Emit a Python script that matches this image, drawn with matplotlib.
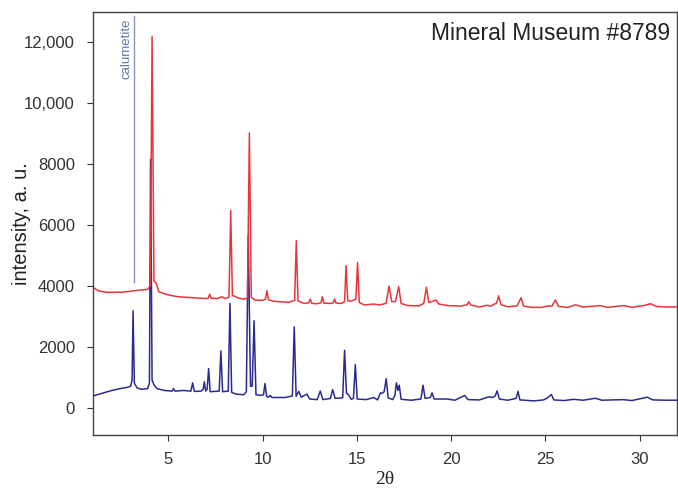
import matplotlib
matplotlib.use('Agg')
import matplotlib.pyplot as plt

plt.rcParams['font.family'] = ['Liberation Sans', 'DejaVu Sans']

# ── red pattern (upper trace) ──
red_x = [1.0, 1.3, 1.8, 2.5, 3.0, 3.5, 3.9, 4.05, 4.14, 4.24, 4.35, 4.5, 5.0, 5.5, 6.0,
         6.5, 7.0, 7.12, 7.19, 7.28, 7.6, 7.85, 8.0, 8.22, 8.31, 8.40, 8.5, 8.7, 9.0,
         9.2, 9.30, 9.40, 9.6, 10.0, 10.15, 10.23, 10.32, 10.6, 11.0, 11.4, 11.7, 11.79,
         11.88, 12.2, 12.45, 12.53, 12.62, 12.9, 13.1, 13.17, 13.25, 13.6, 13.75, 13.82,
         13.9, 14.2, 14.35, 14.43, 14.52, 14.72, 14.95, 15.04, 15.13, 15.4, 15.9, 16.2,
         16.55, 16.71, 16.85, 17.05, 17.22, 17.35, 17.7, 18.3, 18.55, 18.69, 18.82, 19.2,
         19.35, 19.8, 20.2, 20.5, 20.85, 20.93, 21.05, 21.5, 21.9, 22.1, 22.3, 22.42,
         22.52, 22.65, 23.0, 23.5, 23.71, 23.85, 24.3, 24.8, 25.17, 25.35, 25.53, 25.7,
         26.2, 26.6, 27.0, 27.9, 28.3, 29.15, 29.6, 30.3, 30.57, 30.9, 31.5, 32.0]
red_y = [3950, 3830, 3780, 3790, 3820, 3860, 3880, 4000, 12190, 4150, 4090, 3800, 3700,
         3640, 3620, 3600, 3580, 3590, 3720, 3590, 3580, 3640, 3580, 3620, 6470, 3680,
         3660, 3600, 3560, 3600, 9020, 3620, 3530, 3520, 3560, 3835, 3540, 3490, 3470,
         3460, 3520, 5480, 3500, 3420, 3440, 3560, 3420, 3410, 3440, 3640, 3430, 3420,
         3440, 3560, 3430, 3420, 3480, 4660, 3500, 3500, 3560, 4760, 3450, 3370, 3400,
         3370, 3420, 3990, 3480, 3480, 3970, 3420, 3350, 3340, 3420, 3950, 3450, 3530,
         3400, 3350, 3340, 3330, 3380, 3475, 3370, 3300, 3360, 3330, 3400, 3430, 3670,
         3380, 3310, 3340, 3605, 3330, 3290, 3290, 3340, 3330, 3530, 3320, 3290, 3375,
         3300, 3350, 3290, 3350, 3290, 3360, 3410, 3320, 3300, 3310]

# ── blue pattern (lower trace) ──
blue_x = [1.0, 1.5, 2.0, 2.5, 2.8, 3.0, 3.08, 3.13, 3.2, 3.35, 3.6, 3.9, 4.0, 4.06, 4.14,
          4.25, 4.4, 4.8, 5.2, 5.28, 5.36, 5.81, 6.2, 6.29, 6.38, 6.75, 6.85, 6.91, 6.98,
          7.06, 7.14, 7.22, 7.7, 7.79, 7.88, 8.18, 8.27, 8.36, 8.6, 9.0, 9.14, 9.24, 9.36,
          9.45, 9.55, 9.65, 9.9, 10.05, 10.13, 10.22, 10.32, 10.4, 10.5, 11.2, 11.58,
          11.68, 11.78, 11.92, 12.05, 12.36, 12.5, 12.9, 13.06, 13.2, 13.6, 13.72, 13.85,
          14.25, 14.35, 14.45, 14.55, 14.7, 14.82, 14.92, 15.02, 15.5, 15.9, 16.1, 16.25,
          16.35, 16.45, 16.56, 16.66, 16.9, 17.02, 17.1, 17.18, 17.25, 17.35, 17.9, 18.4,
          18.51, 18.62, 18.9, 18.99, 19.1, 19.8, 20.2, 20.72, 20.9, 21.5, 21.99, 22.2,
          22.34, 22.44, 22.56, 23.0, 23.45, 23.55, 23.65, 24.4, 24.9, 25.1, 25.32, 25.45,
          26.0, 26.5, 27.0, 27.65, 28.0, 29.1, 29.6, 30.4, 30.7, 31.5, 32.0]
blue_y = [380, 470, 560, 630, 660, 700, 900, 3180, 800, 640, 600, 620, 800, 8150, 900,
          735, 620, 560, 540, 620, 540, 560, 540, 810, 530, 540, 600, 845, 540, 600, 1280,
          520, 540, 1860, 520, 540, 3420, 500, 440, 420, 520, 5650, 700, 700, 2850, 420,
          400, 420, 790, 360, 340, 400, 330, 330, 380, 2650, 370, 530, 340, 440, 280, 260,
          545, 260, 300, 590, 300, 320, 1880, 470, 430, 270, 300, 1410, 280, 260, 330, 250,
          480, 470, 520, 950, 320, 260, 400, 810, 560, 735, 270, 240, 280, 735, 300, 330,
          480, 280, 280, 240, 395, 260, 250, 350, 330, 380, 545, 280, 240, 300, 535, 250,
          218, 250, 310, 430, 250, 230, 270, 240, 305, 240, 260, 230, 340, 250, 240, 240]

# calumetite marker
calu_x = 3.16
calu_top = 12850
calu_bottom = 4130

yticks = [0, 2000, 4000, 6000, 8000, 10000, 12000]
ytick_labels = ['0', '2000', '4000', '6000', '8000', '10,000', '12,000']
xticks = [5, 10, 15, 20, 25, 30]

fig = plt.figure(figsize=(6.78, 4.92), dpi=100)
ax = fig.add_axes([0.137, 0.116, 0.862, 0.86])

ax.plot(blue_x, blue_y, color='#2b2b8f', linewidth=1.1)
ax.plot(red_x, red_y, color='#e8353a', linewidth=1.1)

ax.plot([calu_x, calu_x], [calu_bottom, calu_top], color='#8f8fcc', linewidth=1.0)
ax.text(calu_x - 0.37, calu_top - 80, 'calumetite', rotation=90, ha='center', va='top',
        fontsize=9.5, color='#5f78ad')

ax.text(0.987, 0.975, 'Mineral Museum #8789', transform=ax.transAxes,
        ha='right', va='top', fontsize=16.5, color='#222222')

ax.set_xlim(1.0, 32.0)
ax.set_ylim(-900, 13000)
ax.set_xticks(xticks)
ax.set_yticks(yticks)
ax.set_yticklabels(ytick_labels)
ax.tick_params(direction='out', length=4, width=0.8, labelsize=12, colors='#333333')
ax.tick_params(axis='x', pad=8)
ax.tick_params(axis='y', pad=9)
for s in ax.spines.values():
    s.set_color('#444444')
    s.set_linewidth(1.0)

ax.set_ylabel('intensity, a. u.', fontsize=14.5, color='#222222')
ax.yaxis.set_label_coords(-0.106, 0.5)
ax.set_xlabel('2θ', fontsize=14, family=['Liberation Serif', 'DejaVu Serif'],
              color='#222222', labelpad=3)

fig.savefig('out.png', dpi=100, facecolor='white')
